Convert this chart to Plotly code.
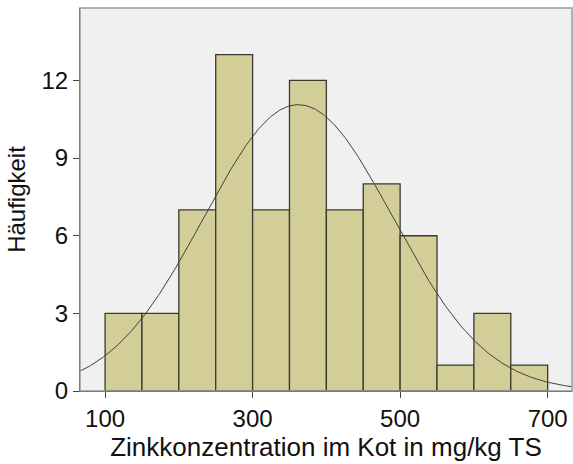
import numpy as np
import plotly.graph_objects as go

# Histogram of zinc concentration in faeces (mg/kg DM)
bin_starts = [100, 150, 200, 250, 300, 350, 400, 450, 500, 550, 600, 650]
bin_width = 50
counts = [3, 3, 7, 13, 7, 12, 7, 8, 6, 1, 3, 1]

# Parameters of the fitted normal curve
fit_mean = 362
fit_sd = 128

x_ticks = [100, 300, 500, 700]
y_ticks = [0, 3, 6, 9, 12]

n_total = sum(counts)
centers = [s + bin_width / 2 for s in bin_starts]

fig = go.Figure()
fig.add_trace(go.Bar(
    x=centers, y=counts, width=[bin_width] * len(counts),
    marker=dict(color="#D3CE98", line=dict(color="#3a3a30", width=1.3)),
    hoverinfo="x+y",
))

xs = np.linspace(60, 740, 400)
ys = n_total * bin_width / (fit_sd * np.sqrt(2 * np.pi)) * np.exp(-0.5 * ((xs - fit_mean) / fit_sd) ** 2)
fig.add_trace(go.Scatter(x=xs, y=ys, mode="lines",
                         line=dict(color="#404040", width=1), hoverinfo="skip"))

font = "Liberation Sans, Arial, sans-serif"
fig.update_layout(
    width=573, height=464,
    margin=dict(l=80, r=1, t=8, b=73),
    paper_bgcolor="white", plot_bgcolor="#F0F0F0",
    showlegend=False,
    font=dict(family=font, color="#111111", size=24),
    xaxis=dict(range=[66, 733], tickvals=x_ticks, showgrid=False, zeroline=False,
               showline=True, linecolor="#222222", linewidth=1.2,
               ticks="outside", ticklen=6, tickcolor="#444444",
               tickfont=dict(size=24),
               title=dict(text="Zinkkonzentration im Kot in mg/kg TS", font=dict(size=26), standoff=5)),
    yaxis=dict(range=[0, 14.8], tickvals=y_ticks, showgrid=False, zeroline=False,
               showline=True, linecolor="#222222", linewidth=1.2,
               ticks="outside", ticklen=6, tickcolor="#444444",
               tickfont=dict(size=24),
               title=dict(text="Häufigkeit", font=dict(size=24), standoff=8)),
    shapes=[dict(type="rect", xref="paper", yref="paper", x0=0, x1=1, y0=0, y1=1,
                 line=dict(color="#999999", width=1.5), layer="above")],
)

fig.write_html("out.html")
